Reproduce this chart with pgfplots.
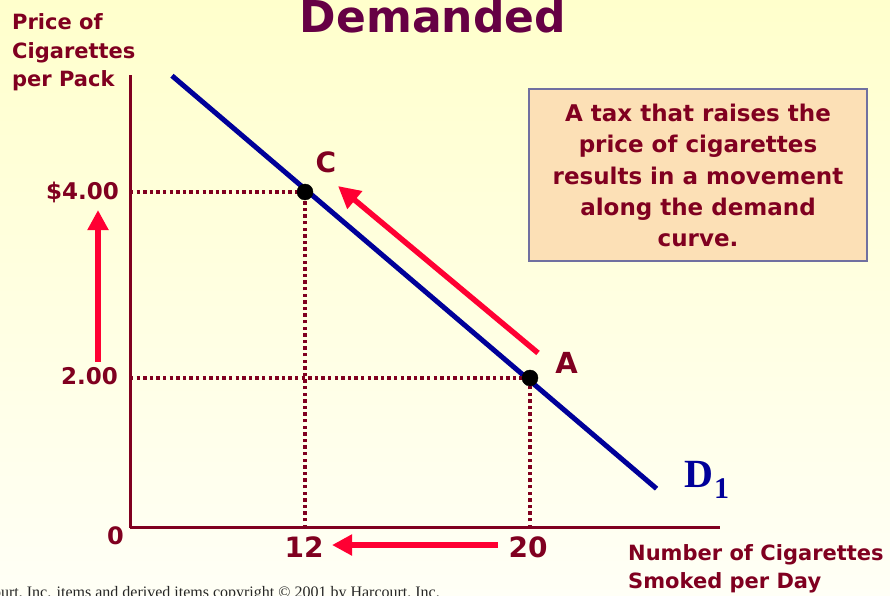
\documentclass[border=0pt]{standalone}
\usepackage{pgfplots}
\pgfplotsset{compat=1.18}
\usetikzlibrary{arrows.meta}
\usepackage{fontspec}
\setmainfont{DejaVu Sans}
\newfontfamily\serifb{Liberation Serif}
\definecolor{maroon}{HTML}{800020}
\definecolor{titlecol}{HTML}{660044}
\definecolor{dblue}{HTML}{000099}
\definecolor{ared}{HTML}{FF0033}
\definecolor{peach}{HTML}{FCE0B6}
\definecolor{boxline}{HTML}{7070A0}
\definecolor{bgtop}{HTML}{FFFFCC}
\definecolor{bgbot}{HTML}{FFFFF6}
\newcommand{\fs}[1]{\fontsize{#1}{#1}\selectfont}
\begin{document}
\begin{tikzpicture}[x=1pt,y=1pt]
\clip (0,0) rectangle (890,596);
\shade[top color=bgtop, bottom color=bgbot] (0,0) rectangle (890,596);
% info box
\draw[boxline, line width=1.3pt, fill=peach] (529,335) rectangle (867,507);
\begin{axis}[
  at={(130pt,68pt)}, anchor=south west, scale only axis,
  width=590pt, height=453pt,
  xmin=5.7778, xmax=26.756, ymin=0.387, ymax=5.258,
  axis lines=left, axis line style={-, line width=3pt, draw=maroon},
  xtick=\empty, ytick=\empty, clip=false,
]
% demand curve D1
\addplot[dblue, line width=5pt, line cap=butt] coordinates {(7.27,5.25) (24.5,0.81)};
% equilibrium points
\addplot[only marks, mark=*, mark size=8pt, black] coordinates {(12,4) (20,2)};
% dotted guides
\addplot[maroon, line width=3.3pt, dash pattern=on 3.3pt off 3.3pt] coordinates {(5.7778,4) (12,4)};
\addplot[maroon, line width=3.3pt, dash pattern=on 3.3pt off 3.3pt] coordinates {(12,0.387) (12,4)};
\addplot[maroon, line width=3.3pt, dash pattern=on 3.3pt off 3.3pt] coordinates {(5.7778,2) (20,2)};
\addplot[maroon, line width=3.3pt, dash pattern=on 3.3pt off 3.3pt] coordinates {(20,0.387) (20,2)};
% red arrows
\addplot[ared, line width=5.5pt, -{Triangle[length=20pt,width=20pt]}] coordinates {(4.64,2.172) (4.64,3.806)};
\addplot[ared, line width=5.5pt, -{Triangle[length=20pt,width=20pt]}] coordinates {(18.86,0.204) (12.96,0.204)};
\addplot[ared, line width=5.5pt, -{Triangle[length=22pt,width=22pt]}] coordinates {(20.284,2.269) (13.173,4.064)};
\end{axis}
% title
\node[anchor=base, inner sep=0, text=titlecol] at (433,563) {\fs{44}\bfseries Demanded};
% y axis title
\node[anchor=base west, inner sep=0, text=maroon] at (12,566) {\fs{21}\bfseries Price of};
\node[anchor=base west, inner sep=0, text=maroon] at (12,537.5) {\fs{21}\bfseries Cigarettes};
\node[anchor=base west, inner sep=0, text=maroon] at (12,509) {\fs{21}\bfseries per Pack};
% x axis title
\node[anchor=base west, inner sep=0, text=maroon] at (628,35.3) {\fs{21}\bfseries Number of Cigarettes};
\node[anchor=base west, inner sep=0, text=maroon] at (628,8) {\fs{21}\bfseries Smoked per Day};
% tick labels
\node[anchor=base east, inner sep=0, text=maroon] at (119,396.5) {\fs{23}\bfseries \$4.00};
\node[anchor=base east, inner sep=0, text=maroon] at (118,211.7) {\fs{23}\bfseries 2.00};
\node[anchor=base, inner sep=0, text=maroon] at (115.5,51) {\fs{24}\bfseries 0};
\node[anchor=base, inner sep=0, text=maroon] at (304,38) {\fs{28}\bfseries 12};
\node[anchor=base, inner sep=0, text=maroon] at (528,38) {\fs{28}\bfseries 20};
% point labels
\node[anchor=base, inner sep=0, text=maroon] at (326,423) {\fs{28}\bfseries C};
\node[anchor=base, inner sep=0, text=maroon] at (566.5,222) {\fs{29}\bfseries A};
% D1
\node[anchor=base west, inner sep=0, text=dblue] at (684,108) {\fs{40}\serifb\bfseries D};
\node[anchor=base west, inner sep=0, text=dblue] at (714,97) {\fs{30}\serifb\bfseries 1};
% box text
\node[anchor=base, inner sep=0, text=maroon] at (698,474.3) {\fs{23}\bfseries A tax that raises the};
\node[anchor=base, inner sep=0, text=maroon] at (698,443) {\fs{23}\bfseries price of cigarettes};
\node[anchor=base, inner sep=0, text=maroon] at (698,411.7) {\fs{23}\bfseries results in a movement};
\node[anchor=base, inner sep=0, text=maroon] at (698,380.4) {\fs{23}\bfseries along the demand};
\node[anchor=base, inner sep=0, text=maroon] at (698,349.1) {\fs{23}\bfseries curve.};
% copyright (cut off at the left and bottom edges, as in the reference)
\node[anchor=base east, inner sep=0, text=black!85] at (440,-1.5) {\fs{16}\serifb Harcourt, Inc. items and derived items copyright \textcopyright{} 2001 by Harcourt, Inc.};
\end{tikzpicture}
\end{document}
